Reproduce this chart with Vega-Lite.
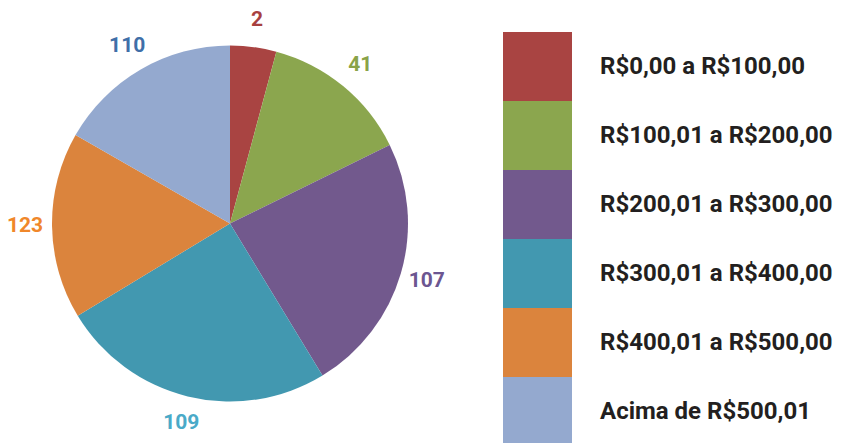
{
  "$schema": "https://vega.github.io/schema/vega-lite/v6.json",
  "width": 460,
  "height": 439,
  "autosize": {"type": "none"},
  "padding": {"left": 0, "top": 4, "right": 381, "bottom": 0},
  "background": "white",
  "view": {"stroke": null},
  "data": {"values": [
    {"faixa": "R$0,00 a R$100,00", "ordem": 1, "setor": 15.1, "rotulo": "2"},
    {"faixa": "R$100,01 a R$200,00", "ordem": 2, "setor": 48.7, "rotulo": "41"},
    {"faixa": "R$200,01 a R$300,00", "ordem": 3, "setor": 84.9, "rotulo": "107"},
    {"faixa": "R$300,01 a R$400,00", "ordem": 4, "setor": 90.1, "rotulo": "109"},
    {"faixa": "R$400,01 a R$500,00", "ordem": 5, "setor": 61.0, "rotulo": "123"},
    {"faixa": "Acima de R$500,01", "ordem": 6, "setor": 60.2, "rotulo": "110"}
  ]},
  "encoding": {
    "theta": {"field": "setor", "type": "quantitative", "stack": true},
    "order": {"field": "ordem", "type": "quantitative"}
  },
  "layer": [
    {
      "mark": {"type": "arc", "outerRadius": 178, "strokeWidth": 0},
      "encoding": {
        "color": {
          "field": "faixa",
          "type": "nominal",
          "scale": {
            "domain": ["R$0,00 a R$100,00", "R$100,01 a R$200,00", "R$200,01 a R$300,00", "R$300,01 a R$400,00", "R$400,01 a R$500,00", "Acima de R$500,01"],
            "range": ["#a94442", "#8ba64e", "#72598d", "#4298b0", "#db843d", "#94a9cf"]
          },
          "legend": {
            "orient": "none",
            "legendX": 503,
            "legendY": 28,
            "title": null,
            "direction": "vertical",
            "symbolType": "square",
            "symbolSize": 4761,
            "symbolStrokeWidth": 0,
            "symbolOpacity": 1,
            "rowPadding": 0,
            "padding": 0,
            "labelFont": "Roboto",
            "labelFontWeight": "bold",
            "labelFontSize": 24,
            "labelColor": "#231f20",
            "labelOffset": 28,
            "labelLimit": 320
          }
        }
      }
    },
    {
      "mark": {"type": "text", "radius": 205, "font": "Roboto", "fontWeight": "bold", "fontSize": 21, "align": "center", "baseline": "middle"},
      "encoding": {
        "text": {"field": "rotulo", "type": "nominal"},
        "color": {
          "field": "faixa",
          "type": "nominal",
          "scale": {
            "domain": ["R$0,00 a R$100,00", "R$100,01 a R$200,00", "R$200,01 a R$300,00", "R$300,01 a R$400,00", "R$400,01 a R$500,00", "Acima de R$500,01"],
            "range": ["#a8403f", "#8aa348", "#6c5691", "#4aaac8", "#f0872a", "#3f6fa8"]
          },
          "legend": null
        }
      }
    }
  ],
  "resolve": {"scale": {"color": "independent"}}
}
